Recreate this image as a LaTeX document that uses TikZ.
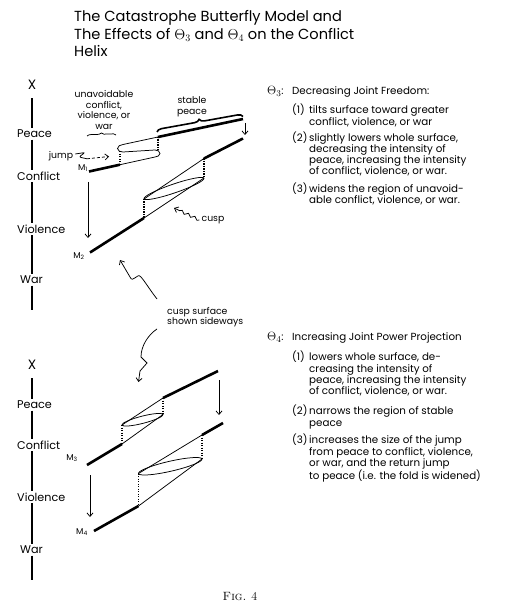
\documentclass[tikz,border=0pt]{standalone}
\usepackage{fontspec}
\newfontfamily\letterfont{Poppins}
\usetikzlibrary{arrows.meta,decorations.pathreplacing,decorations.pathmorphing}
\tikzset{>={Straight Barb[length=3.5pt,width=6pt]}}
\tikzstyle{sheet}=[line width=0.75pt]
\tikzstyle{stable}=[line width=2.6pt]
\tikzstyle{jumpline}=[line width=1.1pt,dash pattern=on 1.1pt off 1.4pt]
\tikzstyle{axisline}=[line width=1.1pt]
\tikzstyle{note}=[font=\letterfont\fontsize{9.3}{10.5}\selectfont,inner sep=0pt]
\tikzstyle{body}=[font=\letterfont\fontsize{10.3}{11.2}\selectfont,inner sep=0pt,align=left,anchor=north west]
\tikzstyle{axislbl}=[font=\letterfont\fontsize{11.2}{12}\selectfont,inner sep=1.5pt]
\tikzstyle{mlbl}=[font=\letterfont\fontsize{8.5}{10}\selectfont,inner sep=0.5pt]
\tikzset{
  squig/.style={->,line width=0.75pt,decorate,
                decoration={snake,amplitude=1.4pt,segment length=7pt,post length=3pt}},
  bracetop/.style={decorate,decoration={brace,amplitude=#1}},
  bracetop/.default=4pt}
\newcommand{\itm}[1]{\makebox[17pt][l]{#1}}
\newcommand{\wrapin}{\hspace*{17pt}}
\newcommand{\bigth}[1]{\makebox[25pt][l]{{\fontsize{13}{13}\selectfont$\Theta_{#1}$}:}}

\begin{document}
\begin{tikzpicture}[x=1pt,y=1pt]
  \useasboundingbox (0,0) rectangle (510,-612);

  % TITLE
  \node[font=\letterfont\fontsize{14.6}{17.5}\selectfont,align=left,anchor=north west,inner sep=0pt]
    (title) at (74,-10.5) {The Catastrophe Butterfly Model and\\The Effects of $\Theta_3$ and $\Theta_4$ on the Conflict\\Helix};

  % AXES
  \foreach \ax/\yx/\yp/\yc/\yv/\yw/\ye in {t/85/134/176/229/280/310, b/365/405/445/497/550/580}{
    \node[axislbl,font=\letterfont\fontsize{13.5}{14}\selectfont] (X\ax) at (32,-\yx) {X};
    \node[axislbl,anchor=west] (P\ax) at (15.5,-\yp) {Peace};
    \node[axislbl,anchor=west] (C\ax) at (15.5,-\yc) {Conflict};
    \node[axislbl,anchor=west] (V\ax) at (15.5,-\yv) {Violence};
    \node[axislbl,anchor=west] (W\ax) at (18.5,-\yw) {War};
    \coordinate (end\ax) at (32,-\ye);
    \draw[axisline] ([yshift=-7pt]X\ax.south) -- (P\ax.north -| X\ax);
    \draw[axisline] (P\ax.south -| X\ax) -- (C\ax.north -| X\ax);
    \draw[axisline] (C\ax.south -| X\ax) -- (V\ax.north -| X\ax);
    \draw[axisline] (V\ax.south -| X\ax) -- (W\ax.north -| X\ax);
    \draw[axisline] (W\ax.south -| X\ax) -- (end\ax);
  }

  % M1 SURFACE
  \coordinate (S1) at (89,-171.5);
  \coordinate (A1) at (120,-164.7);
  \coordinate (L1) at (120,-151.2);
  \coordinate (R1) at (158,-150.5);
  \coordinate (B1) at (158,-137);
  \coordinate (E1) at (243,-119);
  \draw[stable] (S1) -- (A1);
  \draw[stable] (B1) -- (E1);
  \draw[sheet] (A1) -- (155,-157) to[out=12,in=-90] (160,-153.5) to[out=90,in=0] (155,-150)
    -- (123,-152) to[out=180,in=-90] (117.5,-148.5) to[out=90,in=192] (123,-144.5) -- (B1);
  \draw[jumpline] (A1) -- (L1);
  \draw[jumpline] (B1) -- (R1);

  % M2 SURFACE
  \coordinate (S2) at (90,-252.5);
  \coordinate (A2) at (144,-218);
  \coordinate (L2) at (144,-199);
  \coordinate (R2) at (204,-178);
  \coordinate (B2) at (204,-158.5);
  \coordinate (E2) at (243,-138.5);
  \draw[stable] (S2) -- (A2);
  \draw[stable] (B2) -- (E2);
  \draw[sheet] (B2) -- (L2);
  \draw[sheet] (R2) -- (A2);
  \draw[sheet,rotate around={18.9:(174,-188.5)}] (174,-188.5) ellipse (31.7 and 4.4);
  \draw[jumpline] (B2) -- (R2);
  \draw[jumpline] (L2) -- (A2);

  % M3 SURFACE
  \coordinate (S3) at (87,-465);
  \coordinate (A3) at (122,-444);
  \coordinate (L3) at (122,-425);
  \coordinate (R3) at (163,-414.5);
  \coordinate (B3) at (163,-398);
  \coordinate (E3) at (218,-371);
  \draw[stable] (S3) -- (A3);
  \draw[stable] (B3) -- (E3);
  \draw[sheet] (B3) -- (L3);
  \draw[sheet] (R3) -- (A3);
  \draw[sheet,rotate around={14.4:(142.5,-419.75)}] (142.5,-419.75) ellipse (21.2 and 3.6);
  \draw[jumpline] (B3) -- (R3);
  \draw[jumpline] (L3) -- (A3);

  % M4 SURFACE
  \coordinate (S4) at (94,-531);
  \coordinate (A4) at (138.5,-506);
  \coordinate (L4) at (138.5,-473.5);
  \coordinate (R4) at (202,-459);
  \coordinate (B4) at (202,-435);
  \coordinate (E4) at (223,-423);
  \draw[stable] (S4) -- (A4);
  \draw[stable] (B4) -- (E4);
  \draw[sheet] (B4) -- (L4);
  \draw[sheet] (R4) -- (A4);
  \draw[sheet,rotate around={12.9:(170.25,-466.25)}] (170.25,-466.25) ellipse (32.6 and 5);
  \draw[jumpline] (B4) -- (R4);
  \draw[jumpline] (L4) -- (A4);

  % SHIFTS
  \coordinate (d1) at (88,-182);  \coordinate (d2) at (88,-238);
  \coordinate (u1) at (245,-123); \coordinate (u2) at (245,-135);
  \coordinate (d3) at (90,-475);  \coordinate (d4) at (90,-517);
  \coordinate (u3) at (219,-380); \coordinate (u4) at (219,-415);
  \draw[sheet,->] (d1) -- (d2);
  \draw[sheet,->] (u1) -- (u2);
  \draw[sheet,->] (d3) -- (d4);
  \draw[sheet,->] (u3) -- (u4);

  % STATES
  \node[mlbl] (M1) at (83,-168) {M\textsubscript{1}};
  \node[mlbl] (M2) at (79,-256) {M\textsubscript{2}};
  \node[mlbl] (M3) at (72,-458) {M\textsubscript{3}};
  \node[mlbl] (M4) at (82,-532) {M\textsubscript{4}};

  % NOTES ON THE UPPER PICTURE
  \node[note,align=center] (unav) at (104,-110) {unavoidable\\conflict,\\violence, or\\war};
  \draw[sheet,bracetop=2.5pt] (87,-136) -- (116,-135);
  \node[note,align=center] (stab) at (192,-107) {stable\\peace};
  \draw[line width=1.6pt,bracetop=5pt] (157,-132) -- (243,-116.5);
  \node[note] (jump) at (61,-156) {jump};
  \coordinate (jz) at (87,-158.8);
  \draw[sheet,rounded corners=2pt] ([xshift=2pt,yshift=2pt]jump.east) -- (85,-152.5) -- (79,-157) -- (jz);
  \draw[sheet,densely dashed,->] (jz) -- (109,-156.5);
  \node[note] (cusp) at (213,-220) {cusp};
  \draw[squig] ([xshift=-2pt]cusp.west) -- (174,-208);

  % SIDEWAYS
  \node[note,align=left,anchor=north west] (side) at (167,-307) {cusp surface\\shown sideways};
  \coordinate (sw1) at (157,-299);
  \coordinate (sw2) at (157,-329);
  \draw[sheet,->] (sw1) .. controls (150,-290) and (146,-283) .. (141,-277)
    .. controls (137,-272) and (133,-284) .. (130,-277) -- (120,-260);
  \draw[sheet,->] (sw2) .. controls (148,-335) and (141,-346) .. (141,-357)
    -- (147,-363) -- (140,-371) -- (138.5,-382);

  % THETA 3
  \node[body,anchor=west] (th3) at (267,-92) {\bigth{3}Decreasing Joint Freedom:};
  \node[body] (th3a) at (292,-104)
    {\itm{(1)}tilts surface toward greater\\\wrapin conflict, violence, or war};
  \node[body] (th3b) at (292,-131.5)
    {\itm{(2)}slightly lowers whole surface,\\\wrapin decreasing the intensity of\\\wrapin peace, increasing the intensity\\\wrapin of conflict, violence, or war.};
  \node[body] (th3c) at (292,-182.5)
    {\itm{(3)}widens the region of unavoid-\\\wrapin able conflict, violence, or war.};

  % THETA 4
  \node[body,anchor=west] (th4) at (267,-338) {\bigth{4}Increasing Joint Power Projection};
  \node[body] (th4a) at (292,-351)
    {\itm{(1)}lowers whole surface, de-\\\wrapin creasing the intensity of\\\wrapin peace, increasing the intensity\\\wrapin of conflict, violence, or war.};
  \node[body] (th4b) at (292,-405)
    {\itm{(2)}narrows the region of stable\\\wrapin peace};
  \node[body] (th4c) at (292,-434)
    {\itm{(3)}increases the size of the jump\\\wrapin from peace to conflict, violence,\\\wrapin or war, and the return jump\\\wrapin to peace (i.e. the fold is widened)};

  % CAPTION
  \node[font=\rmfamily\fontsize{12}{14}\selectfont] (fig) at (240,-596) {\textsc{Fig.}\hspace{5pt}4};
\end{tikzpicture}
\end{document}
